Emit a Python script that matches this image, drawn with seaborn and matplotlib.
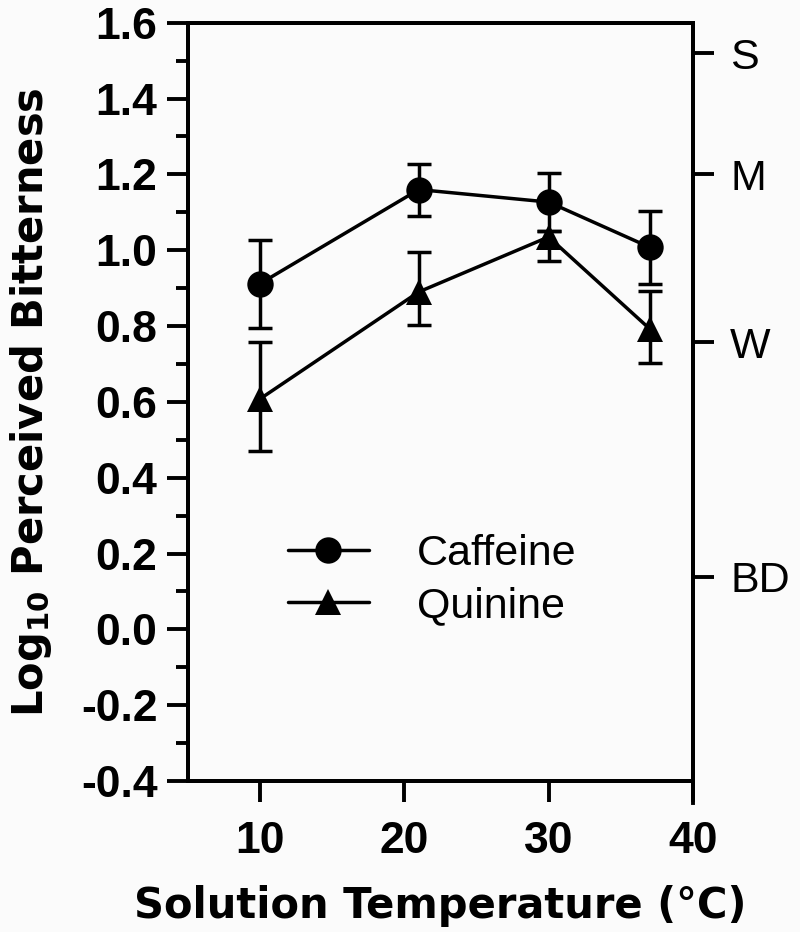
import matplotlib
matplotlib.use("Agg")
import matplotlib.pyplot as plt
import seaborn as sns
import pandas as pd
import numpy as np
from matplotlib.ticker import MultipleLocator

# ---- data ----
temps = [10, 21, 30, 37]
caffeine = [0.912, 1.160, 1.127, 1.008]
caffeine_hi = [1.028, 1.227, 1.204, 1.103]
caffeine_lo = [0.794, 1.090, 1.050, 0.910]
quinine = [0.608, 0.890, 1.035, 0.793]
quinine_hi = [0.757, 0.995, 1.052, 0.892]
quinine_lo = [0.470, 0.803, 0.971, 0.703]
series_names = ["Caffeine", "Quinine"]
right_tick_vals = [1.519, 1.200, 0.757, 0.139]
right_tick_labels = ["S", "M", "W", "BD"]
x_ticks = [10, 20, 30, 40]
y_ticks = [-0.4, -0.2, 0.0, 0.2, 0.4, 0.6, 0.8, 1.0, 1.2, 1.4, 1.6]

sns.set_theme(style="ticks")
plt.rcParams["font.family"] = ["Liberation Sans", "DejaVu Sans"]
plt.rcParams["mathtext.default"] = "regular"
for k in ["text.color", "axes.labelcolor", "xtick.color", "ytick.color", "axes.edgecolor"]:
    plt.rcParams[k] = "black"

df = pd.DataFrame({
    "temp": temps * 2,
    "value": caffeine + quinine,
    "series": [series_names[0]] * len(temps) + [series_names[1]] * len(temps),
})

bg = "#fbfbfb"
fig = plt.figure(figsize=(8.0, 9.32), dpi=100, facecolor=bg)
ax = fig.add_axes([0.235, 0.162, 0.631, 0.8136])
ax.set_facecolor(bg)

lw = 2.5
sns.lineplot(data=df, x="temp", y="value", hue="series", style="series",
             markers={"Caffeine": "o", "Quinine": "^"}, dashes=False,
             palette={"Caffeine": "black", "Quinine": "black"},
             markersize=19, linewidth=lw, markeredgewidth=0, ax=ax, zorder=3)

for vals, hi, lo in [(caffeine, caffeine_hi, caffeine_lo), (quinine, quinine_hi, quinine_lo)]:
    v = np.array(vals)
    yerr = np.vstack([v - np.array(lo), np.array(hi) - v])
    ax.errorbar(temps, v, yerr=yerr, fmt="none", ecolor="black",
                elinewidth=lw, capsize=8.5, capthick=lw, zorder=2)

ax.set_xlim(5, 40)
ax.set_ylim(-0.4, 1.6)
ax.set_xticks(x_ticks)
ax.set_yticks(y_ticks)
ax.yaxis.set_minor_locator(MultipleLocator(0.1))
ax.set_yticklabels([f"{t:.1f}" for t in y_ticks])

for s in ["left", "bottom", "top", "right"]:
    ax.spines[s].set_linewidth(2.8)
    ax.spines[s].set_color("black")

ax.tick_params(axis="both", which="major", length=15, width=2.8, labelsize=32,
               colors="black")
ax.tick_params(axis="y", which="major", pad=7)
ax.tick_params(axis="y", which="minor", length=8.5, width=2.8, colors="black")
ax.tick_params(axis="x", which="major", pad=14)
for lab in ax.get_xticklabels() + ax.get_yticklabels():
    lab.set_fontweight("bold")

lab_font = dict(fontsize=30, fontweight="bold", family=["DejaVu Sans"])
ax.set_xlabel("Solution Temperature (°C)", labelpad=16, **lab_font)
ax.set_ylabel("Log$_{10}$ Perceived Bitterness", labelpad=19, **lab_font)

ax2 = ax.twinx()
ax2.set_ylim(-0.4, 1.6)
ax2.set_yticks(right_tick_vals)
ax2.set_yticklabels(right_tick_labels)
ax2.tick_params(axis="y", length=15, width=2.8, labelsize=31, pad=12, colors="black")
for s in ["left", "bottom", "top", "right"]:
    ax2.spines[s].set_linewidth(2.8)
    ax2.spines[s].set_color("black")
ax2.spines["right"].set_bounds(-0.458, 1.6)

leg = ax.legend(loc="upper left", bbox_to_anchor=(0.163, 0.349), frameon=False,
                fontsize=31, handlelength=1.9, handletextpad=1.1, labelspacing=0.3,
                borderaxespad=0)
for h in leg.legend_handles:
    h.set_markersize(19)
    h.set_linewidth(lw)
for t in leg.get_texts():
    t.set_color("black")

fig.savefig("out.png", dpi=100, facecolor=bg)
